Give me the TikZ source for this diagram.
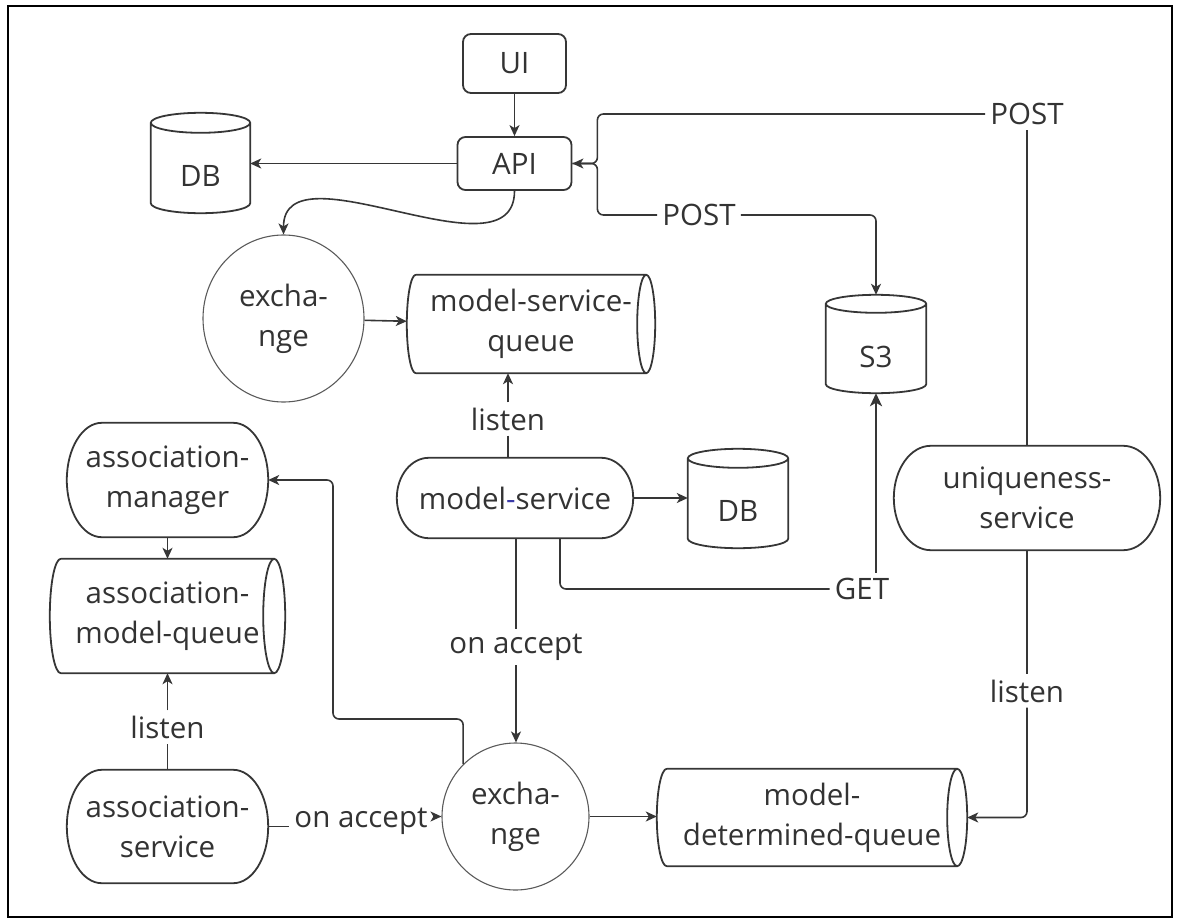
\documentclass[tikz,border=0pt]{standalone}
\usepackage{fontspec}
\setmainfont{Open Sans}
\usetikzlibrary{arrows.meta,calc,shapes.geometric}
\definecolor{ink}{HTML}{363636}
\definecolor{txt}{HTML}{333333}
\definecolor{hy}{HTML}{3B3BA8}
\definecolor{ring}{HTML}{5A5A5A}

\newcommand\vcyl[2]{%
 \draw[nodeline] let \p1=(#1.north west), \p2=(#1.south east) in
   (\x1,{\y1-#2pt}) -- (\x1,{\y2+#2pt}) arc[start angle=180,end angle=360,x radius={(\x2-\x1)/2},y radius=#2pt] -- (\x2,{\y1-#2pt})
   ({(\x1+\x2)/2},{\y1-#2pt}) ellipse[x radius={(\x2-\x1)/2},y radius=#2pt];}
\newcommand\hcyl[2]{%
 \draw[nodeline] let \p1=(#1.north west), \p2=(#1.south east) in
   ({\x1+#2pt},\y1) -- ({\x2-#2pt},\y1)
   ({\x1+#2pt},\y2) -- ({\x2-#2pt},\y2)
   ({\x1+#2pt},\y1) arc[start angle=90,end angle=270,x radius=#2pt,y radius={(\y1-\y2)/2}]
   ({\x2-#2pt},{(\y1+\y2)/2}) ellipse[x radius=#2pt,y radius={(\y1-\y2)/2}];}
\newcommand\stadium[2]{%
 \draw[nodeline] let \p1=(#1.north west), \p2=(#1.south east) in
   ({\x1+#2pt},\y1) -- ({\x2-#2pt},\y1) arc[start angle=90,end angle=-90,x radius=#2pt,y radius={(\y1-\y2)/2}]
   -- ({\x1+#2pt},\y2) arc[start angle=270,end angle=90,x radius=#2pt,y radius={(\y1-\y2)/2}] -- cycle;}
\newcommand\cyltxt[1]{\raisebox{-23pt}[0pt][0pt]{#1}}
\newcommand\qtxt[1]{\makebox[0pt]{\hspace*{-12pt}\begin{tabular}{@{}c@{}}#1\end{tabular}}}

\begin{document}
\begin{tikzpicture}[x=1pt,y=1pt,
  every node/.style={font=\fontsize{29.5pt}{40pt}\selectfont, text=txt, align=center},
  nodeline/.style={draw=ink, line width=1.8pt},
  con/.style={draw=ink, line width=1.6pt},
  arr/.style={con, -{Stealth[length=11pt,width=10pt,inset=3pt]}},
  bigarr/.style={draw=ink, line width=2.4pt, -{Stealth[length=13pt,width=12pt,inset=3.5pt]}},
  box/.style={draw=ink, line width=1.8pt, rounded corners=8pt, inner sep=0pt},
  shp/.style={draw=none, inner sep=0pt},
  lbl/.style={inner sep=5pt},
  exch/.style={draw=ring, line width=1.1pt, inner sep=0pt}
]
\useasboundingbox (0,0) rectangle (1180,-923);
\draw[black, line width=2.5pt] (8,-6) rectangle (1172,-917);

% nodes
\node[box, minimum width=103pt, minimum height=59pt] (ui) at (514.5,-63.5) {UI};
\node[box, minimum width=114pt, minimum height=53pt] (api) at (514.5,-163.5) {API};
\node[shp, minimum width=99pt, minimum height=100pt] (db1) at (200.5,-163) {\cyltxt{DB}};
\node[exch, ellipse, minimum width=161pt, minimum height=167pt] (exch1) at (283.5,-318.5) {excha-\\nge};
\node[shp, minimum width=248pt, minimum height=98pt] (msq) at (531,-324) {model-service-\\queue};
\node[shp, minimum width=100pt, minimum height=98pt] (s3) at (876,-344) {\cyltxt{S3}};
\node[lbl] (lis1) at (508,-419) {listen};
\node[shp, minimum width=236pt, minimum height=80pt] (ms) at (515,-498) {model{\color{hy}-}service};
\node[shp, minimum width=100pt, minimum height=99pt] (db2) at (738,-498.5) {\cyltxt{DB}};
\node[shp, minimum width=266pt, minimum height=104pt] (uni) at (1027,-498) {uniqueness-\\service};
\node[shp, minimum width=201pt, minimum height=114pt] (am) at (167.5,-480) {association-\\manager};
\node[shp, minimum width=235pt, minimum height=114pt] (amq) at (167.5,-616) {association-\\model-queue};
\node[lbl] (get) at (862,-589) {GET};
\node[lbl] (oa1) at (516,-647) {on accept};
\node[lbl] (lis3) at (1027,-691) {listen};
\node[lbl] (lis2) at (167.5,-727) {listen};
\node[exch, circle, minimum size=147pt] (exch2) at (515.5,-816.5) {excha-\\nge};
\node[shp, minimum width=310pt, minimum height=97pt] (mdq) at (812,-817.5) {model-\\determined-queue};
\node[shp, minimum width=201pt, minimum height=113pt] (as) at (167.5,-826.5) {association-\\service};
\node[lbl] (oa2) at (361,-821) {on accept};
\node[lbl] (post1) at (1027,-114) {POST};
\node[lbl] (post2) at (699,-215) {POST};

% shapes
\vcyl{db1}{10}
\vcyl{s3}{9}
\vcyl{db2}{9.5}
\hcyl{msq}{9}
\hcyl{amq}{11}
\hcyl{mdq}{10}
\stadium{ms}{32}
\stadium{uni}{37}
\stadium{am}{35}
\stadium{as}{35}

% connectors
\draw[arr] (ui.south) -- (ui.south |- api.north);
\draw[arr] (api.west) -- (api.west -| db1.east);
\draw[arr] (api.south) to[out=-90,in=90] (exch1.north);
\draw[con] (uni.north) -- (post1.south);
\draw[arr, rounded corners=6pt] (post1.west) -| ($(api.east)+(25,0)$) -- (api.east);
\draw[con, rounded corners=6pt] (api.east) -- ($(api.east)+(25,0)$) |- (post2.west);
\draw[arr, rounded corners=6pt] (post2.east) -| (s3.north);
\draw[arr] (exch1) -- (msq);
\draw[con] (lis1.south) -- (lis1.south |- ms.north);
\draw[arr] (lis1.north) -- (lis1.north |- msq.south);
\draw[arr] (ms.east) -- (ms.east -| db2.west);
\draw[con, rounded corners=6pt] ($(ms.south)+(45,0)$) |- (get.west);
\draw[bigarr] (get.north -| s3.south) -- (s3.south);
\draw[con] (ms.south -| oa1.north) -- (oa1.north);
\draw[arr] (oa1.south) -- (oa1.south |- exch2.north);
\draw[arr, rounded corners=6pt] (exch2.north west) |- (333,-719) |- (am.east);
\draw[arr] (am.south) -- (amq.north);
\draw[con] (as.north) -- (lis2.south);
\draw[arr] (lis2.north) -- (amq.south);
\draw[con] (as.east) -- (as.east -| oa2.west);
\draw[arr] (oa2.east |- exch2.west) -- (exch2.west);
\draw[arr] (exch2.east) -- (exch2.east -| mdq.west);
\draw[con] (uni.south) -- (lis3.north);
\draw[arr, rounded corners=6pt] (lis3.south) |- (mdq.east);
\end{tikzpicture}
\end{document}
